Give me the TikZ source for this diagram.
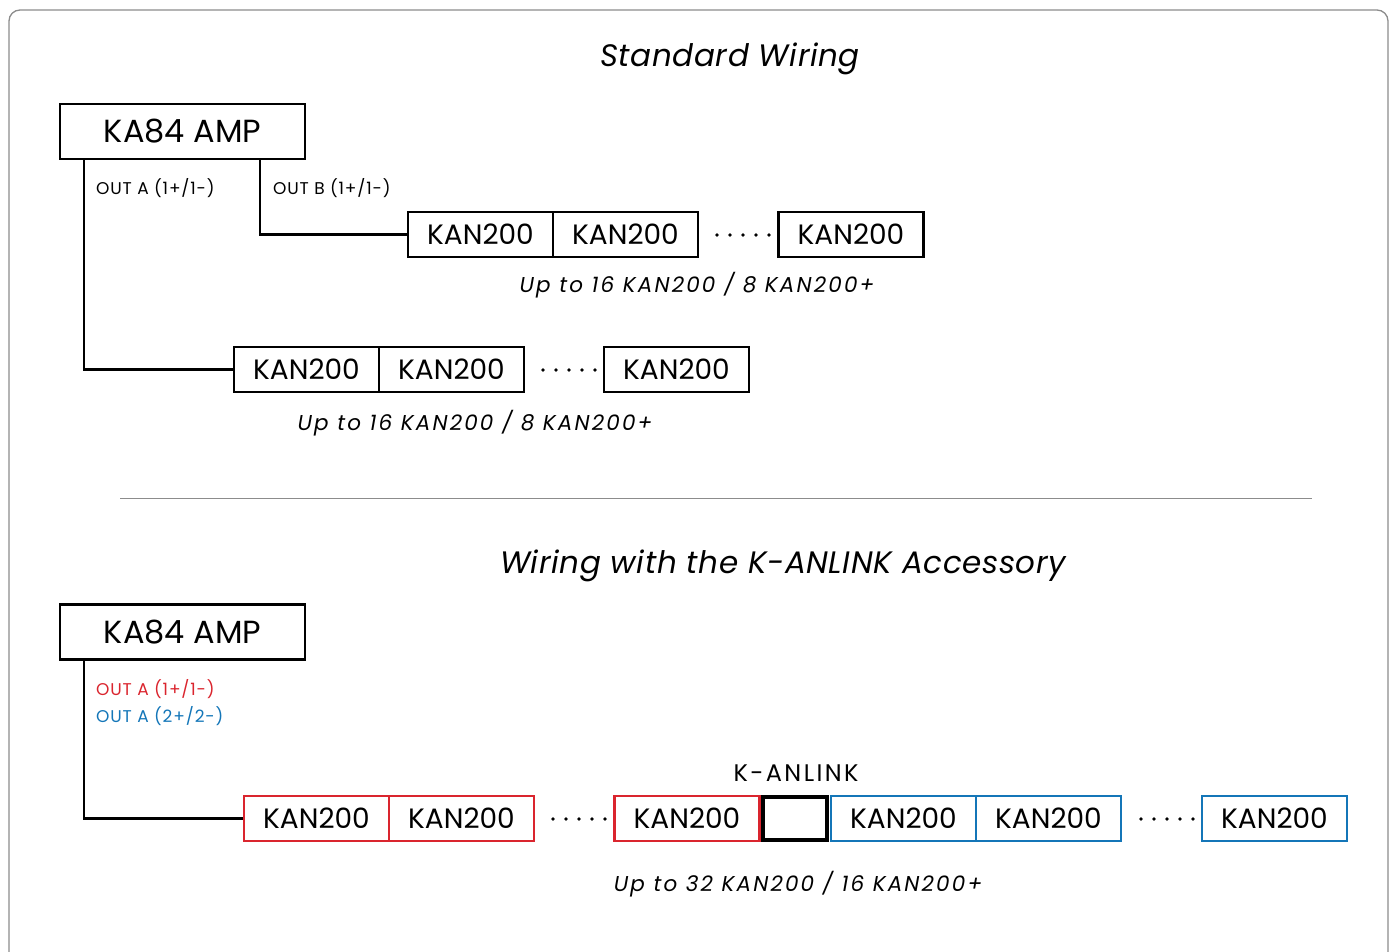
\documentclass[tikz,border=0pt]{standalone}
\usepackage{fontspec}
\setmainfont{Poppins}
\newfontfamily\titlefont[LetterSpace=2]{Poppins}
\newfontfamily\capfont[LetterSpace=10]{Poppins}
\newfontfamily\smallfont[LetterSpace=5]{Poppins}
\newfontfamily\linkfont[LetterSpace=10]{Poppins}
\definecolor{kred}{RGB}{218,37,46}
\definecolor{kblue}{RGB}{20,118,184}
\definecolor{framegray}{RGB}{140,140,140}
\begin{document}
\begin{tikzpicture}[x=1pt,y=-1pt,
  box/.style={draw=black,line width=2.4pt,minimum width=145pt,minimum height=45pt,inner sep=0pt,font=\fontsize{28}{30}\selectfont},
  ampbox/.style={draw=black,line width=2.4pt,minimum width=245pt,minimum height=55pt,inner sep=0pt,font=\fontsize{32}{34}\selectfont},
  redbox/.style={box,draw=kred},
  bluebox/.style={box,draw=kblue},
  linkbox/.style={draw=black,line width=4pt,minimum width=64pt,minimum height=43pt,inner sep=0pt},
  wire/.style={line width=2.2pt,black},
  title/.style={font=\titlefont\fontsize{31}{33}\selectfont\itshape},
  caption/.style={font=\capfont\fontsize{21.5}{23}\selectfont\itshape},
  small/.style={font=\smallfont\fontsize{17}{19}\selectfont,anchor=west,inner sep=0pt}
]
\useasboundingbox (0,0) rectangle (1393,952);
\clip (0,0) rectangle (1393,952);
\draw[framegray,line width=1.3pt,rounded corners=11pt] (9,10) rectangle (1388,985);

% ---------- Standard wiring ----------
\node[title] (t1) at (730,59) {Standard Wiring};
\node[ampbox] (amp1) at (182.5,131.5) {KA84 AMP};

\node[box] (a1) at (480.5,234.5) {KAN200};
\node[box] (a2) at (625.5,234.5) {KAN200};
\node[box] (a3) at (851,234.5) {KAN200};
\foreach \x in {717,730,743,756,769} \fill (\x,235) circle (1.8pt);
\node[caption] (c1) at (697,285) {Up to 16 KAN200 / 8 KAN200+};

\node[box] (b1) at (306.5,369.5) {KAN200};
\node[box] (b2) at (451.5,369.5) {KAN200};
\node[box] (b3) at (676.5,369.5) {KAN200};
\foreach \x in {543,556,569,582,595} \fill (\x,370) circle (1.8pt);
\node[caption] (c2) at (475,423) {Up to 16 KAN200 / 8 KAN200+};

\coordinate (oa) at ([xshift=25pt]amp1.south west);
\coordinate (ob) at ([xshift=-46pt]amp1.south east);
\draw[wire] (oa) |- (b1.west);
\draw[wire] (ob) |- (a1.west);
\node[small] (la) at (96,188) {OUT A (1+/1-)};
\node[small] (lb) at (273,188) {OUT B (1+/1-)};

% separator
\draw[framegray,line width=1pt] (120,498) -- (1312,498);

% ---------- K-ANLINK wiring ----------
\node[title] (t2) at (783,566) {Wiring with the K-ANLINK Accessory};
\node[ampbox] (amp2) at (182.5,632) {KA84 AMP};
\node[small,text=kred] (lr) at (96,689) {OUT A (1+/1-)};
\node[small,text=kblue] (lbb) at (96,716) {OUT A (2+/2-)};

\node[redbox] (r1) at (316.5,818.5) {KAN200};
\node[redbox] (r2) at (461.5,818.5) {KAN200};
\foreach \x in {553,566,579,592,605} \fill (\x,819) circle (1.8pt);
\node[redbox] (r3) at (687,818.5) {KAN200};
\node[linkbox] (link) at (794.5,818.5) {};
\node[font=\linkfont\fontsize{24}{26}\selectfont] (ll) at (796,773) {K-ANLINK};
\node[bluebox] (u1) at (903.5,818.5) {KAN200};
\node[bluebox] (u2) at (1048.5,818.5) {KAN200};
\foreach \x in {1141,1154,1167,1180,1193} \fill (\x,819) circle (1.8pt);
\node[bluebox] (u3) at (1274.5,818.5) {KAN200};
\node[caption] (c3) at (798,884) {Up to 32 KAN200 / 16 KAN200+};

\coordinate (oc) at ([xshift=25pt]amp2.south west);
\draw[wire] (oc) |- (r1.west);
\end{tikzpicture}
\end{document}
